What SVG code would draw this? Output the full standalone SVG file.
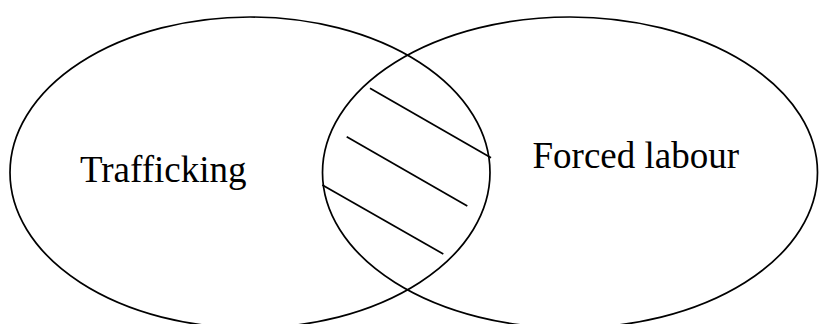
<svg xmlns="http://www.w3.org/2000/svg" width="819" height="324" viewBox="0 0 819 324">
<style>
.shape{fill:none;stroke:#000;stroke-width:1.7}
.hatch{fill:none;stroke:#000;stroke-width:1.7}
.lbl{font-family:"Liberation Serif","Times New Roman",serif;font-size:37px;fill:#000}
</style>
<rect width="819" height="324" fill="#fff"/>
<g id="trafficking">
<ellipse class="shape" cx="250" cy="172.5" rx="240" ry="155.5"/>
<text class="lbl" x="80" y="181.5">Trafficking</text>
</g>
<g id="forced-labour">
<ellipse class="shape" cx="570" cy="172.5" rx="247.5" ry="155.5"/>
<text class="lbl" x="532.5" y="167.5">Forced labour</text>
</g>
<g id="connectors">
<line class="hatch" x1="370" y1="88.3" x2="491" y2="157.7"/>
<line class="hatch" x1="346.7" y1="136.7" x2="467.3" y2="206"/>
<line class="hatch" x1="322.3" y1="185" x2="443.3" y2="254"/>
</g>
</svg>
